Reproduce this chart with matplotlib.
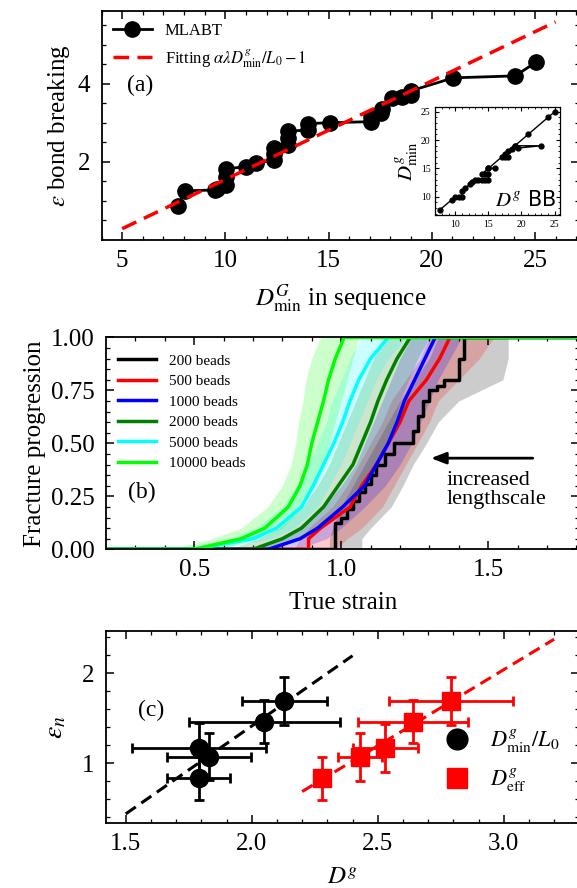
import matplotlib
matplotlib.use("Agg")
import matplotlib.pyplot as plt
import numpy as np

plt.rcParams['font.family'] = ['Liberation Serif', 'DejaVu Serif']
plt.rcParams['mathtext.fontset'] = 'stix'
plt.rcParams['axes.linewidth'] = 1.3

# ---- panel (a) data ----
dmin_seq = [7.7, 8.05, 9.5, 9.6, 10.05, 10.05, 10.05, 11.0, 11.5, 12.35, 12.35, 12.35,
            13.05, 13.05, 13.05, 14.0, 14.0, 15.05, 17.05, 17.05, 17.55, 17.6, 18.05,
            18.55, 19.0, 19.0, 21.05, 24.05, 25.05]
eps_break = [0.88, 1.26, 1.28, 1.30, 1.42, 1.6, 1.82, 1.88, 1.97, 2.05, 2.2, 2.35,
             2.42, 2.6, 2.78, 2.82, 2.98, 3.0, 3.03, 3.15, 3.25, 3.35, 3.63,
             3.66, 3.72, 3.82, 4.15, 4.2, 4.55]
fit_x = [5.0, 26.0]
fit_slope = 0.252
fit_icpt = -0.97

# inset: D^g BB vs D^g_min
bb = [7.7, 9.5, 10.0, 10.5, 11.0, 11.0, 11.5, 12.3, 12.6, 13.0, 13.5, 14.0, 14.5,
      15.0, 15.0, 14.5, 14.0, 15.0, 16.0, 15.0, 17.0, 17.5, 18.0, 18.0, 17.5, 18.5,
      19.0, 23.0, 19.5, 19.0, 21.0, 24.0, 25.0]
bb_min = [7.7, 9.5, 10.0, 10.0, 10.0, 11.0, 11.5, 12.3, 12.6, 13.0, 13.0, 13.0, 13.0,
          13.0, 14.0, 14.0, 14.0, 15.0, 15.0, 15.0, 17.0, 17.5, 18.0, 17.0, 17.0, 18.5,
          19.0, 19.0, 18.6, 19.0, 21.0, 24.0, 25.0]

# ---- panel (b) data ----
levels = [0.0, 0.05, 0.1, 0.2, 0.3, 0.4, 0.5, 0.6, 0.7, 0.8, 0.9, 1.0]
beads = ['200 beads', '500 beads', '1000 beads', '2000 beads', '5000 beads', '10000 beads']
colors = ['black', 'red', 'blue', 'green', 'cyan', 'lime']

black_x = [0.979, 0.979, 1.0, 1.02, 1.04, 1.06, 1.08, 1.10, 1.12, 1.15, 1.18, 1.245,
           1.26, 1.28, 1.30, 1.325, 1.35, 1.40, 1.418]
black_y = [0.0, 0.125, 0.15, 0.19, 0.23, 0.27, 0.31, 0.35, 0.40, 0.45, 0.50, 0.56,
           0.63, 0.70, 0.75, 0.77, 0.80, 0.90, 1.0]

strain_mid = {
    '500 beads':   [0.889, 0.889, 0.93, 1.03, 1.07, 1.12, 1.16, 1.20, 1.23, 1.29, 1.335, 1.37],
    '1000 beads':  [0.752, 0.86, 0.92, 1.005, 1.08, 1.12, 1.16, 1.19, 1.215, 1.25, 1.285, 1.32],
    '2000 beads':  [0.70, 0.80, 0.865, 0.94, 0.99, 1.04, 1.07, 1.10, 1.125, 1.155, 1.19, 1.235],
    '5000 beads':  [0.50, 0.70, 0.78, 0.865, 0.905, 0.94, 0.975, 1.005, 1.03, 1.06, 1.10, 1.16],
    '10000 beads': [0.50, 0.66, 0.74, 0.82, 0.86, 0.885, 0.90, 0.92, 0.94, 0.957, 0.98, 1.01],
}
strain_lo = {
    '200 beads':   [0.96, 0.96, 0.97, 1.0, 1.04, 1.08, 1.12, 1.16, 1.20, 1.25, 1.30, 1.33],
    '500 beads':   [0.84, 0.86, 0.89, 0.97, 1.02, 1.06, 1.10, 1.14, 1.17, 1.22, 1.27, 1.30],
    '1000 beads':  [0.70, 0.78, 0.85, 0.94, 1.0, 1.05, 1.08, 1.11, 1.14, 1.17, 1.20, 1.24],
    '2000 beads':  [0.62, 0.72, 0.79, 0.87, 0.92, 0.96, 0.99, 1.02, 1.05, 1.08, 1.11, 1.15],
    '5000 beads':  [0.45, 0.62, 0.71, 0.80, 0.85, 0.89, 0.92, 0.95, 0.97, 1.0, 1.03, 1.07],
    '10000 beads': [0.42, 0.56, 0.66, 0.75, 0.80, 0.83, 0.845, 0.855, 0.87, 0.88, 0.90, 0.93],
}
strain_hi = {
    '200 beads':   [1.07, 1.07, 1.10, 1.17, 1.21, 1.245, 1.29, 1.33, 1.40, 1.55, 1.568, 1.568],
    '500 beads':   [0.98, 1.02, 1.07, 1.14, 1.18, 1.22, 1.26, 1.30, 1.33, 1.40, 1.47, 1.52],
    '1000 beads':  [0.85, 0.95, 1.0, 1.08, 1.15, 1.20, 1.24, 1.27, 1.30, 1.33, 1.37, 1.41],
    '2000 beads':  [0.76, 0.87, 0.93, 1.01, 1.07, 1.11, 1.15, 1.18, 1.20, 1.23, 1.26, 1.30],
    '5000 beads':  [0.58, 0.76, 0.84, 0.92, 0.96, 1.0, 1.03, 1.06, 1.09, 1.12, 1.16, 1.22],
    '10000 beads': [0.58, 0.72, 0.80, 0.87, 0.91, 0.94, 0.96, 0.98, 1.0, 1.02, 1.04, 1.06],
}

# ---- panel (c) data ----
dmin_x = [1.79, 1.79, 1.83, 2.05, 2.13]
dmin_y = [0.83, 1.17, 1.07, 1.46, 1.69]
dmin_xerr = [0.125, 0.266, 0.167, 0.30, 0.17]
dmin_yerr = [0.235, 0.27, 0.26, 0.24, 0.265]
deff_x = [2.28, 2.43, 2.53, 2.64, 2.79]
deff_y = [0.83, 1.07, 1.17, 1.46, 1.69]
deff_xerr = [0.03, 0.088, 0.13, 0.22, 0.245]
deff_yerr = [0.235, 0.27, 0.265, 0.24, 0.265]
fit_dmin = (1.95, -2.488, [1.5, 2.4])
fit_deff = (1.69, -3.033, [2.2, 3.2])

FS = 18
PF = 17


def style(ax):
    ax.tick_params(which='both', direction='in', top=True, right=True, labelsize=FS)
    ax.tick_params(which='major', length=5.5, width=1.1)
    ax.tick_params(which='minor', length=3, width=0.9)
    ax.tick_params(axis='y', which='major', pad=8)
    ax.tick_params(axis='x', which='major', pad=7)


fig = plt.figure(figsize=(5.77, 8.88), dpi=100)

# ================= (a) =================
ax = fig.add_axes([0.176, 0.7297, 1.004 - 0.176, 0.9876 - 0.7297])
ax.plot(dmin_seq, eps_break, '-o', color='black', lw=2, ms=11, label='MLABT', zorder=3)
fx = np.array(fit_x)
ax.plot(fx, fit_slope * fx + fit_icpt, '--', color='red', lw=2.5, dashes=(4.5, 2.4),
        label=r'Fitting $\alpha\lambda D^g_{\rm min}/L_0-1$', zorder=4)
ax.set_xlim(4, 27.15)
ax.set_ylim(0, 5.86)
ax.set_xticks([5, 10, 15, 20, 25])
ax.set_xticks(np.arange(4, 28, 1), minor=True)
ax.set_yticks([2, 4])
ax.set_yticks(np.arange(0.5, 6, 0.5), minor=True)
style(ax)
ax.set_xlabel(r'$D^G_{\rm min}$ in sequence', fontsize=FS, labelpad=8)
ax.set_ylabel(r'$\varepsilon$ bond breaking', fontsize=FS, labelpad=4)
ax.text(5.25, 3.8, '(a)', fontsize=PF)
ax.legend(loc='upper left', frameon=False, fontsize=12, handlelength=2.3,
          borderaxespad=0.3, labelspacing=0.5)

# inset
axi = fig.add_axes([0.7546, 0.7579, 0.9709 - 0.7546, 0.8792 - 0.7579])
axi.plot(bb, bb_min, '-o', color='black', lw=1, ms=3.5)
axi.set_xlim(7.0, 25.85)
axi.set_ylim(6.77, 25.8)
axi.set_xticks([10, 15, 20, 25])
axi.set_yticks([10, 15, 20, 25])
axi.set_xticks(np.arange(8, 26, 1), minor=True)
axi.set_yticks(np.arange(7, 26, 1), minor=True)
axi.tick_params(which='both', direction='in', top=True, right=True, labelsize=7)
axi.tick_params(which='major', length=3, width=0.8)
axi.tick_params(which='minor', length=1.5, width=0.6)
for s in axi.spines.values():
    s.set_linewidth(0.9)
axi.set_ylabel(r'$D^g_{\rm min}$', fontsize=15, labelpad=0)
axi.text(0.97, 0.05, r'$D^g$ BB', transform=axi.transAxes, ha='right', va='bottom',
         fontsize=15, family=['DejaVu Sans'])

# ================= (b) =================
ax = fig.add_axes([0.1837, 0.3814, 1.004 - 0.1837, 0.6201 - 0.3814])
for name, c in zip(beads, colors):
    ax.fill_betweenx(levels, strain_lo[name], strain_hi[name], color=c,
                     alpha=0.2, lw=0)
for name, c in zip(beads, colors):
    if name == '200 beads':
        xs = [0.2] + black_x + [1.81]
        ys = [0.0] + black_y + [1.0]
        ax.step(xs, ys, where='post', color=c, lw=2.5, label=name)
    else:
        xs = [0.2] + strain_mid[name] + [1.81]
        ys = [0.0] + levels + [1.0]
        ax.plot(xs, ys, color=c, lw=2.5, label=name)
ax.set_xlim(0.2, 1.81)
ax.set_ylim(0, 1.0)
ax.set_xticks([0.5, 1.0, 1.5])
ax.set_xticks(np.arange(0.3, 1.85, 0.1), minor=True)
ax.set_yticks([0, 0.25, 0.5, 0.75, 1.0])
ax.set_yticks(np.arange(0.05, 1.0, 0.05), minor=True)
ax.set_yticklabels(['0.00', '0.25', '0.50', '0.75', '1.00'])
style(ax)
ax.set_xlabel('True strain', fontsize=FS, labelpad=8)
ax.set_ylabel('Fracture progression', fontsize=FS, labelpad=4)
ax.text(0.275, 0.24, '(b)', fontsize=PF)
ax.legend(loc='upper left', frameon=False, fontsize=11, handlelength=2.5,
          borderaxespad=0.4, labelspacing=0.45, bbox_to_anchor=(0.0, 0.98))
ax.annotate('', xy=(1.296, 0.43), xytext=(1.661, 0.43),
            arrowprops=dict(arrowstyle='-|>,head_length=0.9,head_width=0.35',
                            color='black', lw=2))
ax.text(1.359, 0.37, 'increased\nlengthscale', fontsize=16, va='top', ha='left',
        linespacing=1.0)

# ================= (c) =================
ax = fig.add_axes([0.183, 0.0729, 1.004 - 0.183, 0.2898 - 0.0729])
for (k, b, xr), c in [(fit_dmin, 'black'), (fit_deff, 'red')]:
    xr = np.array(xr)
    ax.plot(xr, k * xr + b, '--', color=c, lw=2.2, dashes=(4, 2.2), zorder=1)
ax.errorbar(dmin_x, dmin_y, xerr=dmin_xerr, yerr=dmin_yerr, fmt='o', color='black',
            ms=13, lw=2, capsize=3.5, capthick=2, label=r'$D^g_{\rm min}/L_0$', zorder=3)
ax.errorbar(deff_x, deff_y, xerr=deff_xerr, yerr=deff_yerr, fmt='s', color='red',
            ms=13, lw=2, capsize=3.5, capthick=2, label=r'$D^g_{\rm eff}$', zorder=3)
ax.set_xlim(1.42, 3.30)
ax.set_ylim(0.333, 2.47)
ax.set_xticks([1.5, 2.0, 2.5, 3.0])
ax.set_xticks(np.arange(1.5, 3.3, 0.1), minor=True)
ax.set_yticks([1, 2])
ax.set_yticks(np.arange(0.4, 2.5, 0.2), minor=True)
style(ax)
ax.set_xlabel(r'$D^g$', fontsize=FS, labelpad=9)
ax.set_ylabel(r'$\varepsilon_n$', fontsize=FS + 2, labelpad=10)
ax.text(1.55, 1.52, '(c)', fontsize=PF)
h, l = ax.get_legend_handles_labels()
h = [hh[0] for hh in h]
ax.legend(h, l, loc='lower right', frameon=False, fontsize=16, handletextpad=0.5,
          borderaxespad=0.5, bbox_to_anchor=(1.0, 0.05), markerscale=1.15)

fig.savefig('out.png', dpi=100)
